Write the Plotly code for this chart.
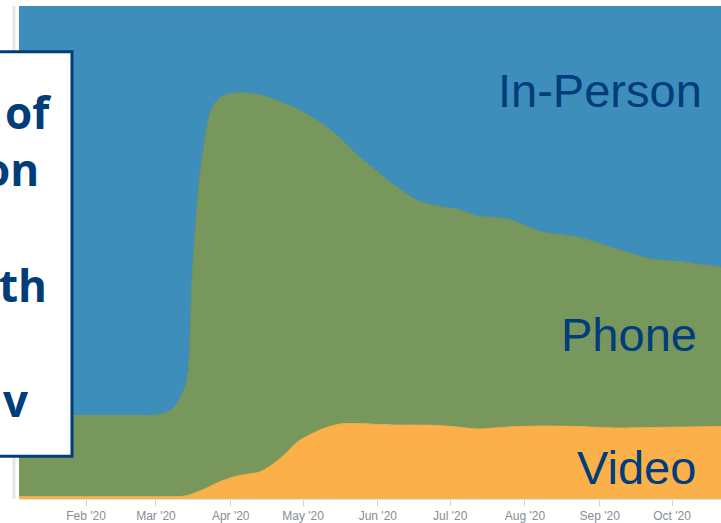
import plotly.graph_objects as go

dates = ["2020-01-01", "2020-01-11", "2020-01-18", "2020-01-25", "2020-02-01", "2020-02-08",
         "2020-02-15", "2020-02-22", "2020-02-29", "2020-03-05", "2020-03-08", "2020-03-11",
         "2020-03-14", "2020-03-16", "2020-03-19", "2020-03-22", "2020-03-24", "2020-03-28",
         "2020-04-04", "2020-04-13", "2020-04-18", "2020-04-24", "2020-04-29", "2020-05-08",
         "2020-05-16", "2020-05-24", "2020-06-01", "2020-06-09", "2020-06-18", "2020-06-26",
         "2020-07-04", "2020-07-12", "2020-07-25", "2020-08-07", "2020-08-23", "2020-09-08",
         "2020-09-22", "2020-10-05", "2020-10-24"]

video = [0.5, 0.5, 0.5, 0.5, 0.5, 0.5,
         0.5, 0.5, 0.5, 0.5, 0.5, 0.5,
         0.7, 1.0, 1.6, 2.2, 2.7, 3.6,
         4.7, 5.5, 6.9, 9.3, 11.7, 14.0,
         15.2, 15.3, 15.1, 15.0, 15.0, 14.9,
         14.6, 14.2, 14.6, 14.8, 14.7, 14.4,
         14.5, 14.6, 14.7]

phone = [16.5, 16.5, 16.5, 16.5, 16.5, 16.5,
         16.5, 16.5, 16.5, 17.0, 17.8, 19.9,
         23.7, 43.6, 63.2, 72.8, 76.3, 78.0,
         77.7, 76.5, 74.3, 70.7, 67.3, 62.4,
         58.1, 54.2, 51.2, 48.2, 45.4, 44.5,
         44.2, 43.2, 42.2, 39.5, 38.4, 36.3,
         34.2, 33.5, 32.1]

in_person = [83.0, 83.0, 83.0, 83.0, 83.0, 83.0,
             83.0, 83.0, 83.0, 82.5, 81.7, 79.6,
             75.6, 55.4, 35.2, 25.0, 21.0, 18.4,
             17.6, 18.0, 18.8, 20.0, 21.0, 23.6,
             26.7, 30.5, 33.7, 36.8, 39.6, 40.6,
             41.2, 42.6, 43.2, 45.7, 46.9, 49.3,
             51.3, 51.9, 53.2]

series_names = ["Video", "Phone", "In-Person"]
fill_colors = ["#fcb049", "#78975c", "#3e8ebb"]
line_colors = ["#f5a940", "#6f8f55", "#3a88b4"]

NAVY = "#003d7a"
W, H = 721, 523
ML, MR, MT, MB = 19, 0, 6, 22
PW, PH = W - ML - MR, H - MT - MB


def px_x(x):
    return (x - ML) / PW


def px_y(y):
    return 1 - (y - MT) / PH


fig = go.Figure()
for name, vals, fc, lc in zip(series_names, [video, phone, in_person], fill_colors, line_colors):
    fig.add_trace(go.Scatter(
        x=dates, y=vals, name=name, mode="lines", stackgroup="one",
        line=dict(width=1, color=lc, shape="spline", smoothing=0.7),
        fillcolor=fc, hoverinfo="x+y+name"))

# series labels (right side)
label_spec = [("In-Person", 704, 91), ("Phone", 699, 336), ("Video", 698, 469)]
annotations = []
for txt, xr, yc in label_spec:
    annotations.append(dict(
        text=txt, xref="paper", yref="paper", x=px_x(xr), y=px_y(yc),
        xanchor="right", yanchor="middle", showarrow=False,
        font=dict(family="Liberation Sans, Arial, sans-serif", size=47, color=NAVY)))

# cut-off text box on the left
box_fragments = [("of", 54, 112), ("on", 41, 170), ("th", 49, 286), ("v", 31, 402)]
for txt, xr, yc in box_fragments:
    annotations.append(dict(
        text="<b>" + txt + "</b>", xref="paper", yref="paper", x=px_x(xr), y=px_y(yc),
        xanchor="right", yanchor="middle", showarrow=False,
        font=dict(family="Open Sans, sans-serif", size=44, color=NAVY)))

shapes = [
    # faint y axis line
    dict(type="line", xref="paper", yref="paper", x0=px_x(14), x1=px_x(14),
         y0=px_y(6), y1=px_y(501), line=dict(color="#e2e6eb", width=3), layer="below"),
    # text box
    dict(type="rect", xref="paper", yref="paper", x0=px_x(-10), x1=px_x(72),
         y0=px_y(458), y1=px_y(52), fillcolor="white",
         line=dict(color=NAVY, width=3), layer="above"),
]

fig.update_layout(
    width=W, height=H,
    margin=dict(l=ML, r=MR, t=MT, b=MB, pad=0),
    paper_bgcolor="white", plot_bgcolor="white",
    showlegend=False,
    annotations=annotations,
    shapes=shapes,
    xaxis=dict(
        type="date", range=["2020-01-04 05:00", "2020-10-21 07:00"],
        tick0="2020-02-01", dtick="M1", tickformat="%b '%y",
        ticks="outside", ticklen=6, tickcolor="#cdd3da", tickwidth=1,
        showgrid=False, zeroline=False, showline=True, linecolor="#dfe3e8", linewidth=1,
        tickfont=dict(family="Liberation Sans, Arial, sans-serif", size=12, color="#858d96"),
    ),
    yaxis=dict(range=[0, 100], showgrid=False, zeroline=False, showticklabels=False,
               showline=False, ticks=""),
)

fig.write_html("out.html")
